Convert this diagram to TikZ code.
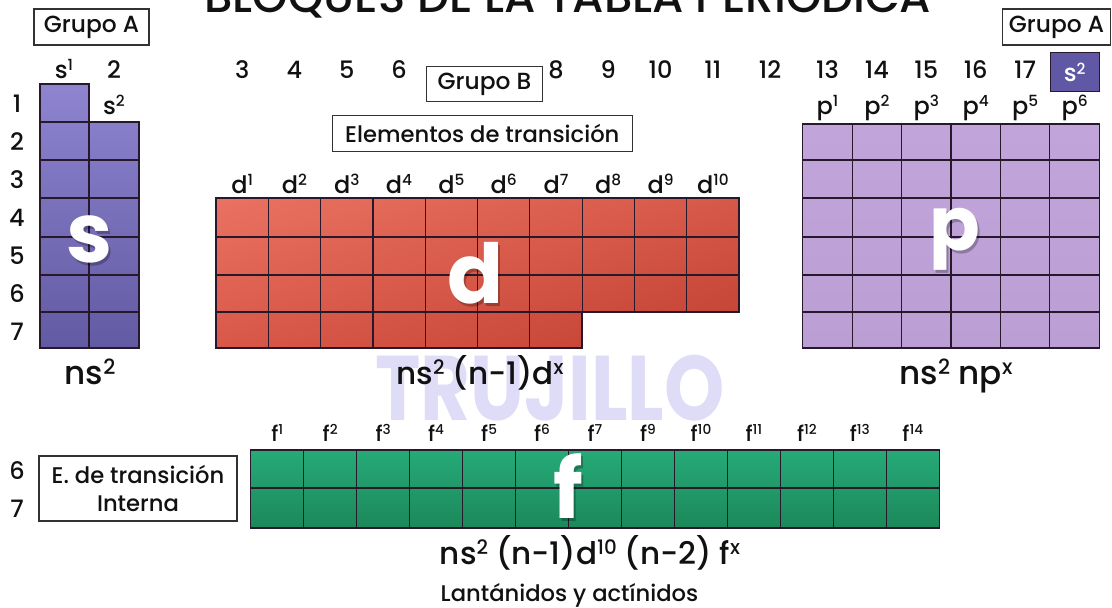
\documentclass[tikz,border=0pt]{standalone}
\usepackage{fontspec}
\setmainfont{Poppins}[UprightFont={* Medium}, BoldFont={* Bold}]
\usepackage{graphicx}
\usetikzlibrary{shadings}
\definecolor{sTop}{RGB}{142,132,208}
\definecolor{sBot}{RGB}{98,90,162}
\definecolor{dUL}{RGB}{234,114,98}
\definecolor{dUR}{RGB}{214,88,72}
\definecolor{dLL}{RGB}{216,88,72}
\definecolor{dLR}{RGB}{192,64,50}
\definecolor{pTop}{RGB}{192,164,218}
\definecolor{pBot}{RGB}{186,158,212}
\definecolor{fTop}{RGB}{38,170,120}
\definecolor{fBot}{RGB}{28,136,90}
\definecolor{sTag}{RGB}{96,88,164}
\definecolor{gridc}{RGB}{40,24,44}
\definecolor{boxc}{RGB}{50,50,50}
\definecolor{wm}{RGB}{222,220,246}
\definecolor{ink}{RGB}{17,17,17}
\newcommand\supx[1]{\raisebox{0.3em}{\scalebox{0.64}{#1}}}
\begin{document}
\begin{tikzpicture}[x=0.75pt,y=-0.75pt,
  num/.style={font=\fontsize{18}{18}\selectfont, text=ink, anchor=base, inner sep=0pt},
  lbl/.style={font=\fontsize{18}{18}\selectfont, text=ink, anchor=base, inner sep=0pt},
  flbl/.style={font=\fontsize{16}{16}\selectfont, text=ink, anchor=base, inner sep=0pt},
  form/.style={font=\fontsize{24.5}{24.5}\selectfont, text=ink, anchor=base, inner sep=0pt},
  tagbox/.style={draw=boxc, line width=1pt, fill=white, text=ink, font=\fontsize{17.5}{17.5}\selectfont, inner sep=0pt},
  big/.style={font=\fontsize{62}{62}\selectfont\bfseries, text=white, inner sep=0pt, anchor=base},
  bigshadow/.style={font=\fontsize{62}{62}\selectfont\bfseries, text=black, opacity=0.25, inner sep=0pt, anchor=base},
  grid/.style={draw=gridc, line width=0.9pt},
]
\useasboundingbox (0,0) rectangle (1112,607);
\clip (0,0) rectangle (1112,607);
\fill[white] (0,0) rectangle (1112,607);

% watermark
\node[anchor=base, inner sep=0pt, text=wm] (wmark) at (550,420) {\resizebox{262pt}{49pt}{\bfseries TRUJILLO}};

% title
\node[anchor=base, inner sep=0pt, text=ink] (title) at (568,12) {\resizebox{545pt}{!}{\fontsize{40}{40}\selectfont BLOQUES DE LA TABLA PERIÓDICA}};

% ---------- s block ----------
\shade[top color=sTop, bottom color=sBot] (40,84) -- (89,84) -- (89,122) -- (139,122) -- (139,348) -- (40,348) -- cycle;
\draw[grid] (40,84) -- (89,84) -- (89,122) -- (139,122) -- (139,348) -- (40,348) -- cycle;
\draw[grid] (89,84) -- (89,348);
\foreach \y in {122,160,198,237,275,312} \draw[grid] (40,\y) -- (139,\y);

% ---------- d block ----------
\shade[upper left=dUL, upper right=dUR, lower left=dLL, lower right=dLR] (216,198) -- (739,198) -- (739,312) -- (582,312) -- (582,348) -- (216,348) -- cycle;
\foreach \i in {1,...,7} \draw[grid] ({216+52.3*\i},198) -- ({216+52.3*\i},348);
\foreach \i in {8,9} \draw[grid] ({216+52.3*\i},198) -- ({216+52.3*\i},312);
\foreach \y in {237,275,312} \draw[grid] (216,\y) -- (739,\y);
\draw[grid] (216,198) -- (739,198) -- (739,312) -- (582,312) -- (582,348) -- (216,348) -- cycle;

% ---------- p block ----------
\shade[top color=pTop, bottom color=pBot] (802.7,124) rectangle (1099.3,348);
\foreach \i in {1,...,5} \draw[grid] ({802.7+49.43*\i},124) -- ({802.7+49.43*\i},348);
\foreach \y in {160,198,237,275,312} \draw[grid] (802.7,\y) -- (1099.3,\y);
\draw[grid] (802.7,124) rectangle (1099.3,348);

% ---------- f block ----------
\shade[top color=fTop, bottom color=fBot] (250.7,450) rectangle (939.3,528);
\foreach \i in {1,...,12} \draw[grid] ({250.7+52.97*\i},450) -- ({250.7+52.97*\i},528);
\draw[grid] (250.7,488) -- (939.3,488);
\draw[grid] (250.7,450) rectangle (939.3,528);

% big letters
\node[bigshadow] (sSh) at (92,265) {s};
\node[big] (sBig) at (90,262) {s};
\node[bigshadow] (dSh) at (478,306) {d};
\node[big] (dBig) at (476,303) {d};
\node[bigshadow, font=\fontsize{56}{56}\selectfont\bfseries] (pSh) at (957,253) {p};
\node[big, font=\fontsize{56}{56}\selectfont\bfseries] (pBig) at (955,250) {p};
\node[bigshadow] (fSh) at (570,521) {f};
\node[big] (fBig) at (568,518) {f};

% ---------- boxes ----------
\node[tagbox, minimum width=115*0.75pt, minimum height=36*0.75pt] (grpA1) at (91.5,27) {Grupo A};
\node[tagbox, minimum width=108*0.75pt, minimum height=36*0.75pt] (grpA2) at (1056.5,27) {Grupo A};
\node[tagbox, minimum width=116*0.75pt, minimum height=35*0.75pt] (grpB) at (484.5,84.2) {Grupo B};
\node[tagbox, font=\fontsize{17}{17}\selectfont, minimum width=300*0.75pt, minimum height=36*0.75pt] (elem) at (482.3,133.7) {Elementos de transición};
\node[tagbox, align=center, minimum width=198*0.75pt, minimum height=65*0.75pt, font=\fontsize{17}{20.5}\selectfont] (einterna) at (138,488.5) {E. de transición\\Interna};
\node[draw=gridc, line width=0.8pt, fill=sTag, minimum width=49*0.75pt, minimum height=39*0.75pt, inner sep=0pt, text=white, font=\fontsize{18}{18}\selectfont] (s2tag) at (1074.6,72.2) {s\supx{2}};

% ---------- group numbers ----------
\node[lbl] (gs1) at (64,78) {s\supx{1}};
\node[num] (g2) at (114,78) {2};
\node[lbl] (gs2) at (114,114) {s\supx{2}};
\foreach \n/\c in {3/1,4/2,5/3,6/4,8/7,9/8,10/9,11/10}
  \node[num] (g\n) at ({216+52.3*(\c-0.5)},78) {\n};
\node[num] (g12) at (770,78) {12};
\foreach \n/\c in {13/1,14/2,15/3,16/4,17/5}
  \node[num] (g\n) at ({802.7+49.43*(\c-0.5)},78) {\n};

% ---------- period numbers ----------
\foreach \r/\y in {1/112,2/150,3/188,4/226,5/264,6/302,7/340}
  \node[num] (row\r) at (17,\y) {\r};
\node[num] (frow6) at (17,479) {6};
\node[num] (frow7) at (17,517) {7};

% ---------- sublevel labels ----------
\foreach \i in {1,...,10}
  \node[lbl] (dl\i) at ({216+52.3*(\i-0.5)},193) {d\supx{\i}};
\foreach \i in {1,...,6}
  \node[lbl] (pl\i) at ({802.7+49.43*(\i-0.5)},114) {p\supx{\i}};
\foreach \e [count=\k] in {1,2,3,4,5,6,7,9,10,11,12,13,14}
  \node[flbl] (fl\k) at ({250.7+52.97*(\k-0.5)},441) {f\supx{\e}};

% ---------- configurations ----------
\node[form] (cs) at (90,384) {ns\supx{2}};
\node[form, font=\fontsize{23.3}{23.3}\selectfont] (cd) at (480,384) {ns\supx{2} (n-1)d\supx{x}};
\node[form] (cp) at (956,384) {ns\supx{2} np\supx{x}};
\node[form, font=\fontsize{23.3}{23.3}\selectfont] (cf) at (590,564) {ns\supx{2} (n-1)d\supx{10} (n-2) f\supx{x}};
\node[flbl, font=\fontsize{17}{17}\selectfont] (lant) at (569.5,601) {Lantánidos y actínidos};
\end{tikzpicture}
\end{document}
